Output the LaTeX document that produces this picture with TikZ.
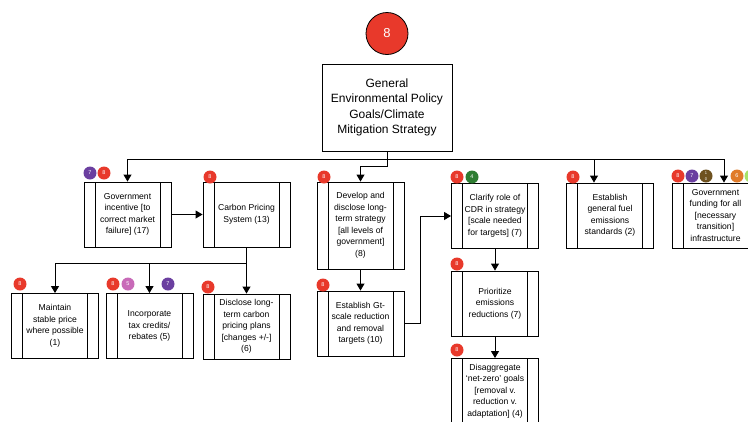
\documentclass[tikz,border=0pt]{standalone}
\usepackage{fontspec}
\setmainfont{Liberation Sans}
\usetikzlibrary{arrows.meta}

\definecolor{bred}{HTML}{E8392B}
\definecolor{bpurple}{HTML}{6B3FA0}
\definecolor{bgreen}{HTML}{2E7D32}
\definecolor{bpink}{HTML}{C86AB8}
\definecolor{bbrown}{HTML}{6E5220}
\definecolor{borange}{HTML}{E07B2A}
\definecolor{blime}{HTML}{A6E36A}

\begin{document}
\begin{tikzpicture}[x=1pt,y=-1pt,
  proc/.style={draw, line width=0.9pt, rectangle, minimum width=87pt,
    minimum height=65pt, inner sep=0pt, align=center,
    font=\fontsize{8.6}{11.5}\selectfont,
    path picture={\draw[line width=0.9pt]
      ([xshift=11pt]path picture bounding box.north west) --
      ([xshift=11pt]path picture bounding box.south west)
      ([xshift=-11pt]path picture bounding box.north east) --
      ([xshift=-11pt]path picture bounding box.south east);}},
  badge/.style={circle, fill=#1, inner sep=0pt, minimum size=13pt,
    text=white, font=\fontsize{5.5}{6}\selectfont},
  link/.style={line width=0.9pt},
  arr/.style={line width=0.9pt, -{Triangle[length=7pt,width=8pt]}}]

\useasboundingbox (0,0) rectangle (748,421);
\clip (0,0) rectangle (748,421);
\fill[white] (0,0) rectangle (748,421);

% Root goal with its rating
\node[circle, draw, line width=0.8pt, fill=bred, minimum size=42pt,
  inner sep=0pt, text=white, font=\fontsize{13}{13}\selectfont] (rootbadge) at (387,33.5) {8};
\node[draw, line width=0.9pt, minimum width=130pt, minimum height=87pt,
  align=center, font=\fontsize{12}{15.5}\selectfont] (root) at (387,107.5)
  {General\\Environmental Policy\\Goals/Climate\\Mitigation Strategy};

% First level
\node[proc] (gi) at (127.5,214.5) {Government\\incentive [to\\correct market\\failure] (17)};
\node[proc] (cp) at (246.5,214.5) {Carbon Pricing\\System (13)};
\node[proc, minimum height=87pt] (dev) at (360.5,225.5)
  {Develop and\\disclose long-\\term strategy\\{[}all levels of\\government]\\(8)};
\node[proc] (cdr) at (495,216) {Clarify role of\\CDR in strategy\\{[}scale needed\\for targets] (7)};
\node[proc] (fuel) at (610,215.5) {Establish\\general fuel\\emissions\\standards (2)};
\node[proc] (fund) at (715.5,215.5) {Government\\funding for all\\{[}necessary\\transition]\\infrastructure};

% Second level
\node[proc] (maint) at (55,326) {Maintain\\stable price\\where possible\\(1)};
\node[proc] (incorp) at (149.5,326) {Incorporate\\tax credits/\\rebates (5)};
\node[proc] (disc) at (246.5,326.5) {Disclose long-\\term carbon\\pricing plans\\{[}changes +/-]\\(6)};
\node[proc] (gt) at (360.5,323.5) {Establish Gt-\\scale reduction\\and removal\\targets (10)};
\node[proc] (prio) at (495,303.5) {Prioritize\\emissions\\reductions (7)};
\node[proc] (disagg) at (495,391) {Disaggregate\\`net-zero' goals\\{[}removal v.\\reduction v.\\adaptation] (4)};

% Rating badges
\node[badge=bpurple] (b1) at (90,173) {7};
\node[badge=bred] (b2) at (104,173) {8};
\node[badge=bred] (b3) at (210,177) {8};
\node[badge=bred] (b4) at (324,177) {8};
\node[badge=bred] (b5) at (457,177) {8};
\node[badge=bgreen] (b6) at (472,177) {4};
\node[badge=bred] (b7) at (573,177) {8};
\node[badge=bred] (b8) at (678,176) {8};
\node[badge=bpurple] (b9) at (692,176) {7};
\node[badge=bbrown, font=\fontsize{4}{4}\selectfont] (b10) at (706,176) {\shortstack{1\\0}};
\node[badge=borange] (b11) at (737,176) {6};
\node[badge=blime] (b12) at (751,176) {};
\node[badge=bred] (b13) at (20,284) {8};
\node[badge=bred] (b14) at (113,284) {8};
\node[badge=bpink] (b15) at (128,284) {5};
\node[badge=bpurple] (b16) at (168,284) {7};
\node[badge=bred] (b17) at (208,287) {8};
\node[badge=bred] (b18) at (323,285) {8};
\node[badge=bred] (b19) at (457,264) {8};
\node[badge=bred] (b20) at (457,350) {8};

% Connectors from the root
\coordinate (bus) at ([yshift=-8pt]root.south);
\draw[link] (root.south) -- (bus);
\draw[arr] (bus) -| (gi.north);
\draw[arr] (bus) -| ([xshift=-16pt]fuel.north);
\draw[arr] (bus) -| ([xshift=8.5pt]fund.north);
\draw[arr] (root.south) -- ++(0,15) -| (dev.north);

% Carbon pricing branch
\draw[arr] (gi.east) -- (cp.west);
\coordinate (cpbus) at ([yshift=-16pt]cp.south);
\draw[link] (cp.south) -- (cpbus);
\draw[arr] (cpbus) -| (maint.north);
\draw[arr] (cpbus) -| (incorp.north);
\draw[arr] (cpbus) -- (disc.north);

% Strategy branch
\draw[arr] (dev.south) -- (gt.north);
\draw[arr] (gt.east) -- ++(16,0) |- (cdr.west);
\draw[arr] (cdr.south) -- (prio.north);
\draw[arr] (prio.south) -- (disagg.north);
\end{tikzpicture}
\end{document}
